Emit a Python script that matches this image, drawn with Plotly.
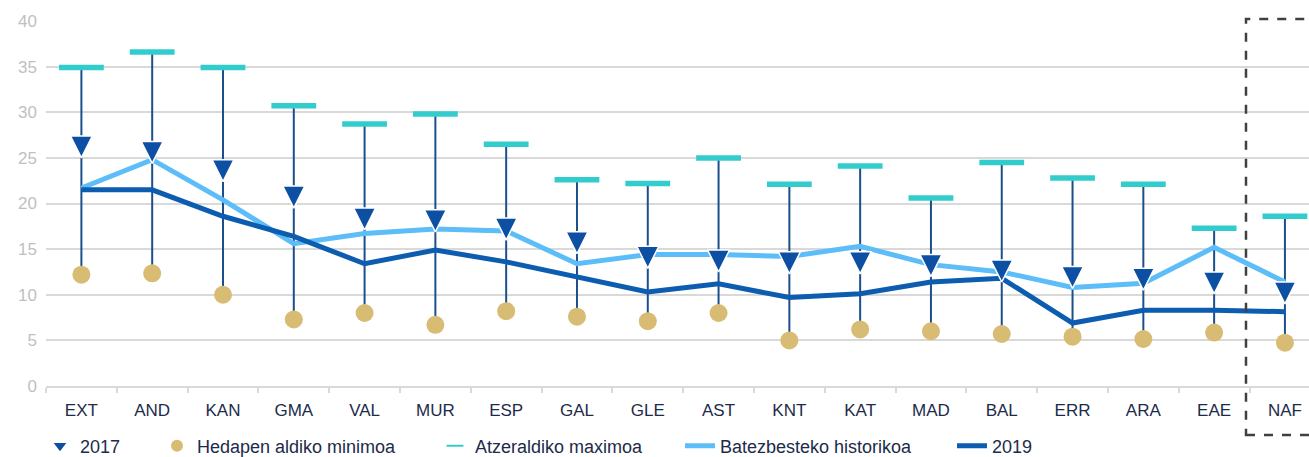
import plotly.graph_objects as go

categories = ["EXT", "AND", "KAN", "GMA", "VAL", "MUR", "ESP", "GAL", "GLE",
              "AST", "KNT", "KAT", "MAD", "BAL", "ERR", "ARA", "EAE", "NAF"]
v2017 = [26.2, 25.6, 23.6, 20.7, 18.3, 18.1, 17.2, 15.7, 14.1,
         13.7, 13.5, 13.5, 13.2, 12.6, 11.9, 11.7, 11.3, 10.2]
minimoa = [12.2, 12.35, 10.0, 7.3, 8.0, 6.7, 8.2, 7.6, 7.1,
           8.0, 5.0, 6.2, 6.0, 5.7, 5.4, 5.15, 5.85, 4.75]
maximoa = [34.9, 36.6, 34.9, 30.7, 28.7, 29.8, 26.5, 22.6, 22.2,
           25.0, 22.1, 24.1, 20.6, 24.5, 22.8, 22.1, 17.3, 18.6]
historikoa = [21.7, 24.8, 20.4, 15.6, 16.7, 17.2, 17.0, 13.4, 14.4,
              14.4, 14.2, 15.3, 13.3, 12.5, 10.8, 11.25, 15.2, 11.4]
v2019 = [21.5, 21.5, 18.6, 16.4, 13.4, 14.9, 13.6, 11.9, 10.3,
         11.2, 9.7, 10.1, 11.4, 11.8, 6.9, 8.3, 8.3, 8.15]

names = ["2017", "Hedapen aldiko minimoa", "Atzeraldiko maximoa",
         "Batezbesteko historikoa", "2019"]

FONT = "Liberation Sans, Arial, sans-serif"
TXT = "#1c2b4a"
C2017 = "#0c4fa3"

W, H = 1309, 457
PLOT_L, PLOT_T, PLOT_B = 46, 21, 386      # plot area in pixels
PW = W - PLOT_L
PH = PLOT_B - PLOT_T

# high-low lines built from the min / max arrays
vx, vy = [], []
for c, lo, hi in zip(categories, minimoa, maximoa):
    vx += [c, c, None]
    vy += [lo, hi, None]

fig = go.Figure()
fig.add_trace(go.Scatter(x=vx, y=vy, mode="lines", showlegend=False,
                         line=dict(color="#1b4f8c", width=2), hoverinfo="skip"))
fig.add_trace(go.Scatter(x=categories, y=historikoa, mode="lines", name=names[3],
                         line=dict(color="#5cbdf8", width=5), legend="legend4"))
fig.add_trace(go.Scatter(x=categories, y=v2019, mode="lines", name=names[4],
                         line=dict(color="#0c5cb0", width=5), legend="legend5"))
fig.add_trace(go.Scatter(x=categories, y=minimoa, mode="markers", name=names[1],
                         marker=dict(symbol="circle", size=18, color="#d8bc74"),
                         legend="legend2"))
fig.add_trace(go.Scatter(x=categories, y=maximoa, mode="markers", name=names[2],
                         marker=dict(symbol="line-ew", size=32,
                                     line=dict(color="#33cccc", width=5.5)),
                         legend="legend3"))
fig.add_trace(go.Scatter(x=categories, y=v2017, mode="markers", name=names[0],
                         showlegend=False,
                         marker=dict(symbol="arrow-down", size=22, standoff=11,
                                     color=C2017, line=dict(color="white", width=1.5))))
# legend entry for the 2017 series (plain triangle symbol, no data drawn)
fig.add_trace(go.Scatter(x=[None], y=[None], mode="markers", name=names[0],
                         marker=dict(symbol="triangle-down", size=11, color=C2017),
                         legend="legend"))

def leg(xpx, sizing="constant"):
    return dict(x=(xpx - PLOT_L) / PW, xanchor="left", y=(PLOT_B - 446) / PH,
                yanchor="middle", orientation="h", bgcolor="rgba(0,0,0,0)",
                itemsizing=sizing, font=dict(family=FONT, size=18, color=TXT))

fig.update_layout(
    width=W, height=H,
    margin=dict(l=PLOT_L, r=0, t=PLOT_T, b=H - PLOT_B, autoexpand=False),
    paper_bgcolor="white", plot_bgcolor="white",
    font=dict(family=FONT, size=17, color=TXT),
    legend=leg(40, "trace"), legend2=leg(157), legend3=leg(435),
    legend4=leg(680), legend5=leg(952),
    xaxis=dict(type="category", categoryorder="array", categoryarray=categories,
               range=[-0.5, 17.34], showgrid=False, showline=True, automargin=False,
               linecolor="#d9d9d9", linewidth=2, ticks="outside", tickson="boundaries",
               ticklen=5, tickcolor="#d9d9d9", tickwidth=1.5,
               tickfont=dict(family=FONT, size=17, color=TXT), ticklabelstandoff=8),
    yaxis=dict(range=[0, 40], dtick=5, showgrid=True, gridcolor="#d9d9d9", gridwidth=2,
               zeroline=False, showline=False, automargin=False,
               tickfont=dict(family=FONT, size=17, color="#bfbfbf"), ticklabelstandoff=8),
    shapes=[dict(type="rect", xref="x", yref="paper", x0=16.45, x1=18.5,
                 y0=(PLOT_B - 435) / PH, y1=(PLOT_B - 19) / PH,
                 line=dict(color="#404040", width=2.5, dash="dash"),
                 fillcolor="rgba(0,0,0,0)", layer="above")],
)

fig.write_html("out.html",
               config={"displayModeBar": False},
               post_script="document.body.style.margin='0';"
                           "document.body.style.overflow='hidden';")
